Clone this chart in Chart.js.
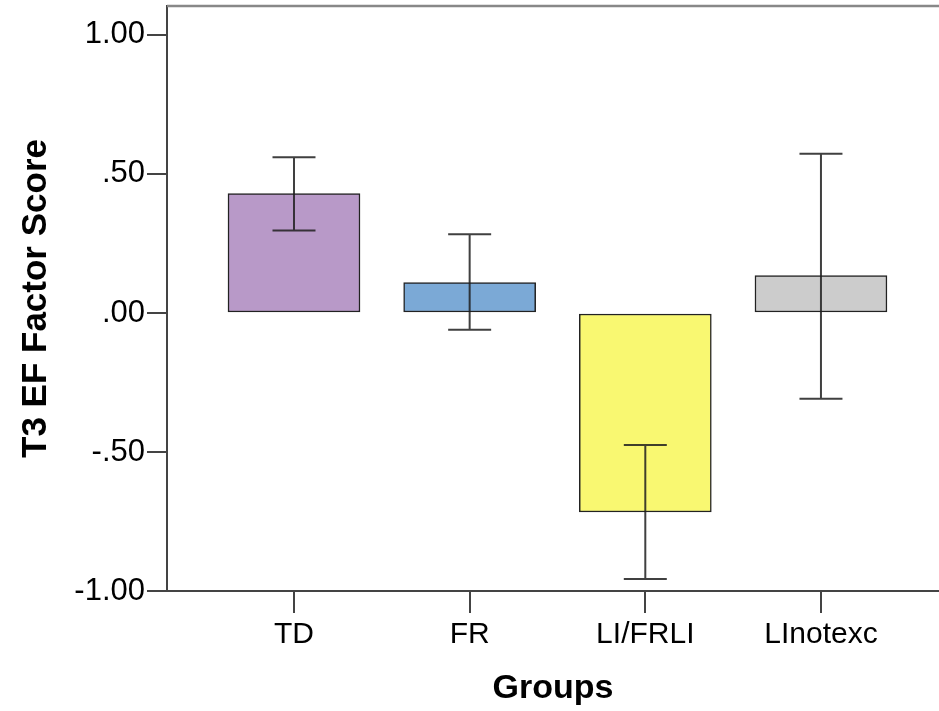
<!DOCTYPE html>
<html>
<head>
<meta charset="utf-8">
<script src="https://cdn.jsdelivr.net/npm/chart.js@4.4.1/dist/chart.umd.min.js"></script>
<style>
  body { margin: 0; background: #fff; }
  #wrap { width: 939px; height: 711px; }
</style>
</head>
<body>
<div id="wrap"><canvas id="myChart" width="939" height="711"></canvas></div>
<script>
const grupos = ['TD', 'FR', 'LI/FRLI', 'LInotexc'];
const medias = [0.429, 0.109, -0.716, 0.134];
const erroAlto = [0.560, 0.283, -0.475, 0.573];
const erroBaixo = [0.297, -0.060, -0.957, -0.309];
const cores = ['#B899C8', '#7BA9D6', '#F9F871', '#CCCCCC'];
const ticksY = [-1, -0.5, 0, 0.5, 1];

function formatarY(v) {
    let s = Math.abs(v).toFixed(2);
    if (s.startsWith('0')) s = s.slice(1);
    return (v < 0 ? '-' : '') + s;
}

// desenha as barras de erro e a borda de cima
const errorBars = {
    id: 'errorBars',
    afterDatasetsDraw(chart) {
        const ctx = chart.ctx;
        const x = chart.scales.x;
        const y = chart.scales.y;
        ctx.save();
        ctx.strokeStyle = 'rgba(30,30,30,0.85)';
        ctx.lineWidth = 2;
        for (let i = 0; i < grupos.length; i++) {
            const px = x.getPixelForValue(i + 1);
            const hi = y.getPixelForValue(erroAlto[i]);
            const lo = y.getPixelForValue(erroBaixo[i]);
            ctx.beginPath();
            ctx.moveTo(px, hi); ctx.lineTo(px, lo);
            ctx.moveTo(px - 21.5, hi); ctx.lineTo(px + 21.5, hi);
            ctx.moveTo(px - 21.5, lo); ctx.lineTo(px + 21.5, lo);
            ctx.stroke();
        }
        const a = chart.chartArea;
        ctx.strokeStyle = '#888';
        ctx.lineWidth = 2.5;
        ctx.beginPath();
        ctx.moveTo(a.left, a.top); ctx.lineTo(a.right, a.top);
        ctx.stroke();
        ctx.restore();
    }
};

const dados = {
    datasets: [{
        data: medias.map((v, i) => ({ x: i + 1, y: v })),
        backgroundColor: cores,
        borderColor: '#222',
        borderWidth: 1.5,
        borderSkipped: false,
        barThickness: 132,
    }]
};

const config = {
    type: 'bar',
    data: dados,
    options: {
        responsive: false,
        animation: false,
        layout: { padding: { top: 6, right: 0, left: 0, bottom: 0 } },
        plugins: {
            legend: { display: false },
            tooltip: { enabled: false },
        },
        scales: {
            x: {
                type: 'linear',
                min: 0.277,
                max: 4.672,
                offset: false,
                afterBuildTicks: (s) => { s.ticks = grupos.map((g, i) => ({ value: i + 1 })); },
                afterFit: (s) => {
                    s.height = 120;
                    s.paddingLeft = 0;
                    s.paddingRight = 0;
                },
                ticks: {
                    callback: (v) => grupos[v - 1],
                    color: '#000',
                    font: { family: 'Liberation Sans, Arial', size: 30 },
                    padding: 4,
                    maxRotation: 0,
                    autoSkip: false,
                },
                grid: {
                    offset: false,
                    drawOnChartArea: false,
                    tickLength: 22,
                    tickColor: '#444',
                    lineWidth: 2,
                },
                border: { color: '#444', width: 2 },
                title: {
                    display: true,
                    text: 'Groups',
                    color: '#000',
                    font: { family: 'Liberation Sans, Arial', size: 34, weight: 'bold' },
                    padding: { top: 0, bottom: 2 },
                }
            },
            y: {
                min: -1,
                max: 1.104,
                afterBuildTicks: (s) => { s.ticks = ticksY.map(v => ({ value: v })); },
                afterFit: (s) => {
                    s.width = 167;
                    s.paddingTop = 0;
                    s.paddingBottom = 0;
                },
                ticks: {
                    callback: (v) => formatarY(v),
                    color: '#000',
                    font: { family: 'Liberation Sans, Arial', size: 31 },
                    padding: 2,
                },
                grid: {
                    drawOnChartArea: false,
                    tickLength: 20,
                    tickColor: '#444',
                    lineWidth: 2,
                },
                border: { color: '#444', width: 2 },
                title: {
                    display: true,
                    text: 'T3 EF Factor Score',
                    color: '#000',
                    font: { family: 'Liberation Sans, Arial', size: 35, weight: 'bold' },
                    padding: { top: 15, bottom: 0 },
                }
            }
        }
    },
    plugins: [errorBars]
};

const ctx = document.getElementById('myChart').getContext('2d');
new Chart(ctx, config);
</script>
</body>
</html>
